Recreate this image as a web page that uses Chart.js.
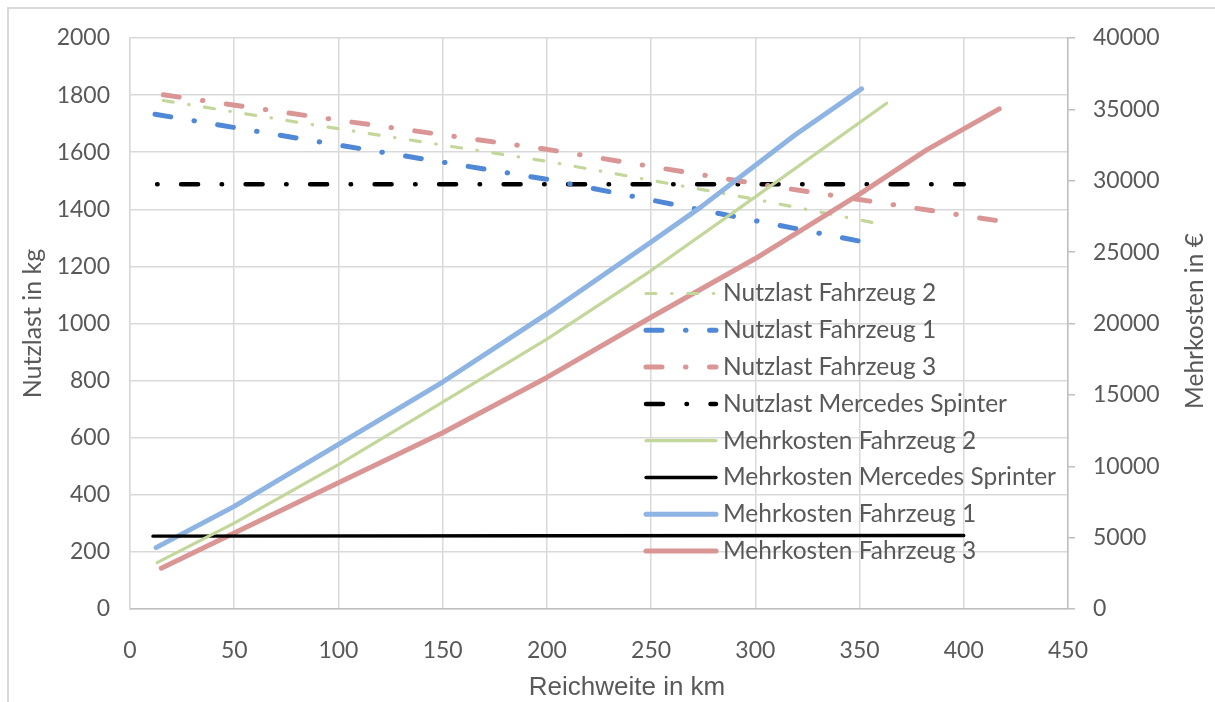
<!DOCTYPE html>
<html>
<head>
<meta charset="utf-8">
<title>Nutzlast und Mehrkosten</title>
<script src="https://cdn.jsdelivr.net/npm/chart.js@4.4.1/dist/chart.umd.min.js"></script>
<style>
  html, body { margin: 0; padding: 0; background: #fff; }
  #wrap { position: relative; width: 1215px; height: 702px; }
</style>
</head>
<body>
<div id="wrap"><canvas id="chart" width="1215" height="702"></canvas></div>
<script>
// --- Daten ---
const kmNutzlastF2 = [16, 100, 200, 300, 363];
const nutzlastF2 = [1781, 1682, 1568, 1435, 1344];

const kmNutzlastF1 = [12, 100, 200, 300, 351];
const nutzlastF1 = [1733, 1625, 1505, 1360, 1287];

const kmNutzlastF3 = [16, 100, 200, 300, 418];
const nutzlastF3 = [1801, 1712, 1610, 1490, 1358];

const kmNutzlastSprinter = [13, 400];
const nutzlastSprinter = [1488, 1488];

const kmMehrkostenF2 = [13, 50, 100, 150, 200, 250, 300, 363];
const mehrkostenF2 = [3250, 6020, 10120, 14500, 18910, 23710, 28870, 35430];

const kmMehrkostenSprinter = [11, 200, 400];
const mehrkostenSprinter = [5100, 5130, 5150];

const kmMehrkostenF1 = [12.5, 50, 100, 150, 200, 250, 274, 319, 351];
const mehrkostenF1 = [4300, 7190, 11530, 15900, 20670, 25710, 28170, 33200, 36440];

const kmMehrkostenF3 = [15, 50, 100, 150, 200, 250, 300, 350, 382, 417];
const mehrkostenF3 = [2860, 5320, 8840, 12350, 16220, 20440, 24550, 29060, 32150, 35030];

const seriesLabels = [
  "Nutzlast Fahrzeug 2",
  "Nutzlast Fahrzeug 1",
  "Nutzlast Fahrzeug 3",
  "Nutzlast Mercedes Spinter",
  "Mehrkosten Fahrzeug 2",
  "Mehrkosten Mercedes Sprinter",
  "Mehrkosten Fahrzeug 1",
  "Mehrkosten Fahrzeug 3",
];

const xTitle = "Reichweite in km";
const yTitle = "Nutzlast in kg";
const y1Title = "Mehrkosten in €";

const textColor = "#595959";
const gridColor = "#d9d9d9";
const axisColor = "#bfbfbf";

// Punkte für die lineare x-Achse
const toPoints = (km, vals) => km.map((k, i) => ({ x: k, y: vals[i] }));

// Strich-Punkt-Muster (Excel "langer Strich Punkt")
const dashLong = [16, 23.5, 0.5, 23.5];
const dashGreen = [10, 15.6, 0.5, 15.6];

const datasets = [
  { data: toPoints(kmNutzlastF2, nutzlastF2), borderColor: "#c4d79b", borderWidth: 3.2, borderDash: dashGreen, yAxisID: "y", order: 2 },
  { data: toPoints(kmNutzlastF1, nutzlastF1), borderColor: "#4f88d6", borderWidth: 5, borderDash: dashLong, yAxisID: "y", order: 2 },
  { data: toPoints(kmNutzlastF3, nutzlastF3), borderColor: "#da9694", borderWidth: 5, borderDash: dashLong, yAxisID: "y", order: 2 },
  { data: toPoints(kmNutzlastSprinter, nutzlastSprinter), borderColor: "#000000", borderWidth: 4.5, borderDash: [17, 23.5, 0.5, 23.5], borderDashOffset: 40.5, yAxisID: "y", order: 2 },
  { data: toPoints(kmMehrkostenF2, mehrkostenF2), borderColor: "#c4d79b", borderWidth: 3.2, borderDash: [], yAxisID: "y1", order: 1 },
  { data: toPoints(kmMehrkostenSprinter, mehrkostenSprinter), borderColor: "#000000", borderWidth: 3.3, borderDash: [], yAxisID: "y1", order: 1 },
  { data: toPoints(kmMehrkostenF1, mehrkostenF1), borderColor: "#8db4e2", borderWidth: 5, borderDash: [], yAxisID: "y1", order: 1 },
  { data: toPoints(kmMehrkostenF3, mehrkostenF3), borderColor: "#da9694", borderWidth: 5, borderDash: [], yAxisID: "y1", order: 1 },
].map((ds, i) => ({
  label: seriesLabels[i],
  fill: false,
  tension: 0,
  pointRadius: 0,
  borderCapStyle: "round",
  borderJoinStyle: "round",
  ...ds,
}));

// Rahmen um das Diagramm
const framePlugin = {
  id: "frame",
  beforeDraw(chart) {
    const ctx = chart.ctx;
    ctx.save();
    ctx.fillStyle = "#ffffff";
    ctx.fillRect(0, 0, chart.width, chart.height);
    ctx.strokeStyle = gridColor;
    ctx.lineWidth = 2;
    ctx.strokeRect(8, 8, chart.width + 20, chart.height + 20);
    ctx.restore();
  },
};

// x-Titel und rechter Titel (von unten nach oben gelesen)
const titlePlugin = {
  id: "axisTitles",
  afterDraw(chart) {
    const ctx = chart.ctx;
    ctx.save();
    ctx.fillStyle = textColor;
    ctx.textAlign = "center";
    ctx.textBaseline = "middle";
    ctx.font = '26px "Liberation Sans"';
    ctx.fillText(xTitle, 627, 688);
    ctx.translate(1195, 321);
    ctx.rotate(-Math.PI / 2);
    ctx.font = "24.5px Lato";
    ctx.fillText(y1Title, 0, 0);
    ctx.restore();
  },
};

// Legende im Diagrammbereich
const legendPlugin = {
  id: "innerLegend",
  afterDraw(chart) {
    const ctx = chart.ctx;
    ctx.save();
    ctx.font = "24.5px Lato";
    ctx.textBaseline = "middle";
    ctx.fillStyle = textColor;
    chart.data.datasets.forEach((ds, i) => {
      const y = 293.5 + i * 36.8;
      ctx.save();
      ctx.strokeStyle = ds.borderColor;
      ctx.lineWidth = ds.borderWidth;
      ctx.lineCap = "round";
      ctx.setLineDash(ds.borderDash || []);
      ctx.lineDashOffset = 0;
      ctx.beginPath();
      ctx.moveTo(646, y);
      ctx.lineTo(716, y);
      ctx.stroke();
      ctx.restore();
      ctx.fillText(ds.label, 723, y);
    });
    ctx.restore();
  },
};

const ctx = document.getElementById("chart").getContext("2d");

new Chart(ctx, {
  type: "line",
  data: { datasets: datasets },
  options: {
    responsive: false,
    animation: false,
    devicePixelRatio: 1,
    layout: { padding: { top: 38, left: 0, right: 0, bottom: 0 } },
    plugins: {
      legend: { display: false },
      tooltip: { enabled: false },
    },
    scales: {
      x: {
        type: "linear",
        min: 0,
        max: 450,
        afterFit: (scale) => { scale.height = 93; },
        grid: { color: gridColor, lineWidth: 1.5, drawTicks: false },
        border: { color: axisColor, width: 1.5 },
        ticks: {
          stepSize: 50,
          padding: 28,
          color: textColor,
          font: { family: "Lato", size: 23 },
          callback: (v) => String(v),
        },
      },
      y: {
        position: "left",
        min: 0,
        max: 2000,
        afterFit: (scale) => { scale.width = 130; },
        grid: { color: gridColor, lineWidth: 1.5, drawTicks: false },
        border: { color: gridColor, width: 1.5 },
        ticks: {
          stepSize: 200,
          padding: 20,
          color: textColor,
          font: { family: "Lato", size: 23 },
          callback: (v) => String(v),
        },
        title: {
          display: true,
          text: yTitle,
          color: textColor,
          font: { family: "Lato", size: 25 },
          padding: { top: 18, bottom: 0 },
        },
      },
      y1: {
        position: "right",
        min: 0,
        max: 40000,
        afterFit: (scale) => { scale.width = 147; },
        grid: { drawOnChartArea: false, drawTicks: true, tickLength: 7, color: axisColor, lineWidth: 1.5 },
        border: { color: axisColor, width: 1.5 },
        ticks: {
          stepSize: 5000,
          padding: 18,
          color: textColor,
          font: { family: "Lato", size: 23 },
          callback: (v) => String(v),
        },
      },
    },
  },
  plugins: [framePlugin, titlePlugin, legendPlugin],
});
</script>
</body>
</html>
